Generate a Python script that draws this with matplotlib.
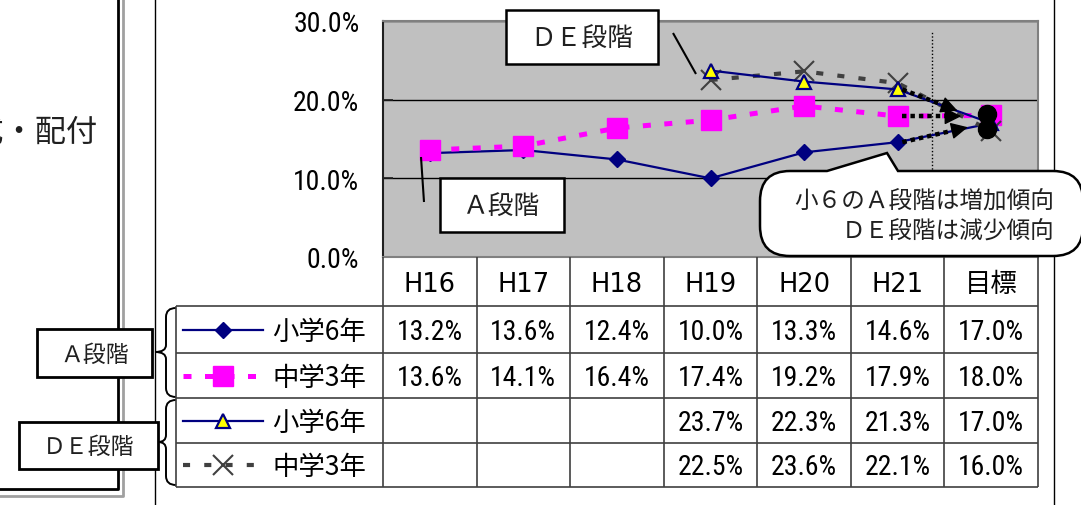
import numpy as np
import matplotlib
matplotlib.use('Agg')
import matplotlib.pyplot as plt
from matplotlib import font_manager
from matplotlib.path import Path
from matplotlib.patches import PathPatch, Rectangle
from matplotlib.ticker import FuncFormatter

# ---------------- data ----------------
categories = ['H16', 'H17', 'H18', 'H19', 'H20', 'H21', '目標']
a_sho6 = [13.2, 13.6, 12.4, 10.0, 13.3, 14.6, 17.0]
a_chu3 = [13.6, 14.1, 16.4, 17.4, 19.2, 17.9, 18.0]
de_sho6 = [np.nan, np.nan, np.nan, 23.7, 22.3, 21.3, 17.0]
de_chu3 = [np.nan, np.nan, np.nan, 22.5, 23.6, 22.1, 16.0]
series_labels = ['小学6年', '中学3年', '小学6年', '中学3年']
group_labels = ['Ａ段階', 'ＤＥ段階']
y_ticks = [0, 10, 20, 30]

# annotation overlay values (arrows from H21 toward the target)
arrow_start_x = [5.05, 5.05, 5.05]
arrow_end_x = [5.64, 5.68, 5.75]
arrow_end_y = [18.6, 17.9, 16.5]
target_dot_x = [5.96, 5.96]
target_dot_y = [18.2, 16.3]
divider_x = 5.37
callout_lines = ['小６のＡ段階は増加傾向', 'ＤＥ段階は減少傾向']
side_text = '作成・配付'

# pick a narrow font for numbers if one is installed
_names = {f.name for f in font_manager.fontManager.ttflist}
NUMFONT, NUMSIZE = 'Liberation Sans', 18
for cand, size in [('Liberation Sans Narrow', 20.5), ('Arial Narrow', 20.5),
                   ('Roboto Condensed', 20), ('Roboto', 18.8)]:
    if cand in _names:
        NUMFONT, NUMSIZE = cand, size
        break

plt.rcParams['font.family'] = [NUMFONT, 'Noto Sans CJK JP', 'DejaVu Sans']
CJK = ['Noto Sans CJK JP', 'DejaVu Sans']

W, H = 1081, 506
fig = plt.figure(figsize=(W / 100, H / 100), dpi=100)
fig.patch.set_facecolor('white')

# plot area (pixel layout)
PL, PR, PT, PB = 383, 1038, 22, 258
ax = fig.add_axes([PL / W, 1 - PB / H, (PR - PL) / W, (PB - PT) / H])
ax.set_facecolor('#C0C0C0')
ax.set_xlim(-0.5, len(categories) - 0.5)
ax.set_ylim(0, 30)
ax.set_yticks(y_ticks)
ax.yaxis.set_major_formatter(FuncFormatter(lambda v, p: f'{v:.1f}%'))
ax.tick_params(axis='y', direction='in', length=7, width=1.2, color='#202020',
               labelsize=NUMSIZE, pad=17, labelfontfamily=NUMFONT)
ax.set_xticks([])
for s in ['top', 'right', 'bottom']:
    ax.spines[s].set_color('#808080')
    ax.spines[s].set_linewidth(1.5)
ax.spines['left'].set_color('#202020')
ax.spines['left'].set_linewidth(1.5)
ax.grid(axis='y', color='black', linewidth=1)
ax.set_axisbelow(True)

x = np.arange(len(categories))

styles = [
    dict(color='#000080', lw=1.6, marker='D', ms=8.5, mfc='#000080', mec='#000080', zorder=3),
    dict(color='#FF00FF', lw=3.6, ls=(0, (1.6, 2.7)), marker='s', ms=14, mfc='#FF00FF', mec='#FF00FF', zorder=4),
    dict(color='#000080', lw=1.6, marker='^', ms=9.5, mfc='#FFFF00', mec='#000080', mew=1.6, zorder=6),
    dict(color='#404040', lw=3.0, ls=(0, (1.7, 3.4)), marker='x', ms=14, mfc='none', mec='#404040', mew=1.5, zorder=5),
]
series = [a_sho6, a_chu3, de_sho6, de_chu3]
for vals, st in zip(series, styles):
    ax.plot(x, vals, **st)

# dotted divider before target
ax.plot([divider_x, divider_x], [1.0, 28.6], color='black', lw=1, ls=(0, (1, 1.5)), zorder=2)

# arrows from H21 to target
start_y = [de_sho6[5], a_chu3[5], a_sho6[5]]
for sx, sy, ex, ey in zip(arrow_start_x, start_y, arrow_end_x, arrow_end_y):
    ax.plot([sx, ex - 0.08], [sy, sy + (ey - sy) * (ex - 0.08 - sx) / (ex - sx)],
            color='black', lw=3.2, ls=(0, (1, 0.9)), zorder=8)
    ax.annotate('', xy=(ex, ey), xytext=(ex - 0.12, sy + (ey - sy) * (ex - 0.12 - sx) / (ex - sx)),
                arrowprops=dict(arrowstyle='-|>', color='black', lw=1, mutation_scale=26,
                                shrinkA=0, shrinkB=0), zorder=9)
ax.plot(target_dot_x, target_dot_y, 'o', color='black', ms=13, zorder=9)

# ---------------- overlay in pixel coordinates ----------------
ov = fig.add_axes([0, 0, 1, 1], zorder=5)
ov.set_xlim(0, W)
ov.set_ylim(H, 0)
ov.axis('off')
ov.patch.set_visible(False)

def line(xs, ys, **kw):
    kw.setdefault('color', 'black')
    kw.setdefault('lw', 1)
    ov.plot(xs, ys, solid_capstyle='butt', **kw)

# left panel frame (partially out of view)
line([123, 123, -5], [-5, 497, 497], color='#A0A0A0', lw=2)
line([118, 118, -5], [-5, 490, 490], color='black', lw=2)
ov.text(98, 133, side_text, ha='right', va='center', fontsize=22.5, family=CJK, color='#202020')
# outer frame verticals
line([155, 155], [0, H], lw=1)
line([1054, 1054], [0, H], lw=1)

# table geometry from the axes scale
col_centers = [ax.transData.transform((i, 0))[0] * 100 / fig.dpi for i in x]
half = (col_centers[1] - col_centers[0]) / 2
col_edges = [c - half for c in col_centers] + [col_centers[-1] + half]
row_edges = [PB, 307, 354, 399, 444, 488]
LEG_L = 176

tcol = '#404040'
for ye in row_edges[1:]:
    line([LEG_L, col_edges[-1]], [ye, ye], color=tcol, lw=1.2)
for xe in col_edges:
    line([xe, xe], [row_edges[0], row_edges[-1]], color=tcol, lw=1.2)
line([LEG_L, LEG_L], [row_edges[1], row_edges[-1]], color=tcol, lw=1.2)

# header
for cx, cat in zip(col_centers, categories):
    fam = CJK if not cat.isascii() else ['DejaVu Sans']
    ov.text(cx, (row_edges[0] + row_edges[1]) / 2 + 2, cat, ha='center', va='center',
            fontsize=19 if not cat.isascii() else 18.5, family=fam, color='black')

# values
for r, vals in enumerate(series):
    yc = (row_edges[r + 1] + row_edges[r + 2]) / 2 + 2
    for cx, v in zip(col_centers, vals):
        if not np.isnan(v):
            ov.text(cx, yc, f'{v:.1f}%', ha='center', va='center', fontsize=NUMSIZE,
                    family=NUMFONT, color='black')
    # legend sample
    st = dict(styles[r])
    st.pop('zorder')
    lx0, lx1 = 183, 263
    ov.plot([lx0, lx1], [yc - 2, yc - 2], **{k: v for k, v in st.items() if k in ('color', 'lw', 'ls')})
    ov.plot([(lx0 + lx1) / 2], [yc - 2], ls='none',
            **{k: v for k, v in st.items() if k in ('marker', 'ms', 'mfc', 'mec', 'mew')})
    ov.text(272, yc, series_labels[r], ha='left', va='center', fontsize=19, family=CJK, color='black')

# braces
def brace(xr, yt, yb, xt, ym):
    xm = xr - 10
    verts = [(xr, yt), (xm, yt), (xm, yt + 9),
             (xm, ym - 7), (xm, ym), (xt, ym),
             (xm, ym), (xm, ym + 7),
             (xm, yb - 9), (xm, yb), (xr, yb)]
    codes = [Path.MOVETO, Path.CURVE3, Path.CURVE3,
             Path.LINETO, Path.CURVE3, Path.CURVE3,
             Path.CURVE3, Path.CURVE3,
             Path.LINETO, Path.CURVE3, Path.CURVE3]
    ov.add_patch(PathPatch(Path(verts, codes), fill=False, lw=1.4, ec='black'))

brace(176, 309, 398, 155, 353)
brace(176, 401, 486, 158, 443)

# group label boxes (left)
def box(x0, y0, x1, y1, text, fs, lw=2):
    ov.add_patch(Rectangle((x0, y0), x1 - x0, y1 - y0, fc='white', ec='black', lw=lw, zorder=6))
    ov.text((x0 + x1) / 2, (y0 + y1) / 2 + 1, text, ha='center', va='center', fontsize=fs,
            family=CJK, color='#202020', zorder=7)

box(37, 330, 152, 378, group_labels[0], 16.5)
box(19, 423, 158, 470, group_labels[1], 16.5)

# in-chart labels
box(506, 11, 658, 65, group_labels[1], 18.5, lw=1.8)
line([673, 696], [34, 75], lw=1.5)
box(440, 179, 564, 233, group_labels[0], 18.5, lw=1.8)
line([421, 424], [158, 203], lw=1.5)

# callout bubble
L, R, T, B, r = 760, 1083, 172, 257, 30
verts = [(L + r, T), (827, T), (887, 154), (898, T), (R - r, T),
         (R, T), (R, T + r), (R, B - r), (R, B), (R - r, B),
         (L + r, B), (L, B), (L, B - r), (L, T + r), (L, T), (L + r, T), (L + r, T)]
codes = [Path.MOVETO, Path.LINETO, Path.LINETO, Path.LINETO, Path.LINETO,
         Path.CURVE3, Path.CURVE3, Path.LINETO, Path.CURVE3, Path.CURVE3,
         Path.LINETO, Path.CURVE3, Path.CURVE3, Path.LINETO, Path.CURVE3, Path.CURVE3,
         Path.CLOSEPOLY]
ov.add_patch(PathPatch(Path(verts, codes), fc='white', ec='black', lw=1.8, zorder=6))
ov.text(1054, 202, callout_lines[0], ha='right', va='center', fontsize=17, family=CJK,
        color='#202020', zorder=7)
ov.text(1054, 232, callout_lines[1], ha='right', va='center', fontsize=17, family=CJK,
        color='#202020', zorder=7)

fig.savefig('out.png', dpi=100)
